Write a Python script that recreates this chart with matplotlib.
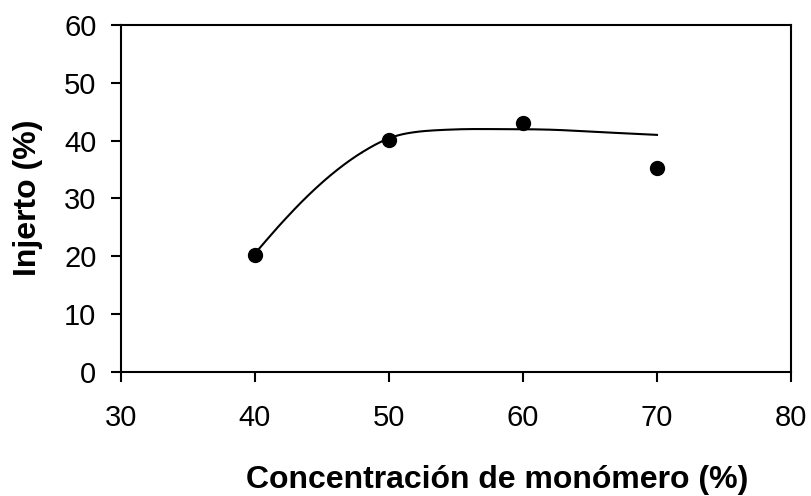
import matplotlib as mpl
import matplotlib.pyplot as plt
import numpy as np

mpl.rcParams["font.family"] = ["Liberation Sans", "DejaVu Sans"]

# measured grafting vs monomer concentration
monomer = [40, 50, 60, 70]
injerto = [20.2, 40.1, 43.1, 35.3]

# fitted trend, read at these concentrations
curve_x = [40, 42, 44, 46, 48, 50, 52, 55, 58, 62, 66, 70]
curve_y = [20.5, 25.8, 30.6, 34.7, 38.0, 40.4, 41.5, 41.95, 42.0, 41.9,
           41.45, 41.0]

x_ticks = [30, 40, 50, 60, 70, 80]
y_ticks = [0, 10, 20, 30, 40, 50, 60]


def catmull_rom(xs, ys, n=30):
    xs = np.asarray(xs, float)
    ys = np.asarray(ys, float)
    px = np.concatenate([[2 * xs[0] - xs[1]], xs, [2 * xs[-1] - xs[-2]]])
    py = np.concatenate([[2 * ys[0] - ys[1]], ys, [2 * ys[-1] - ys[-2]]])
    out_x, out_y = [], []
    t = np.linspace(0, 1, n)
    for i in range(1, len(px) - 2):
        for p, out in ((px, out_x), (py, out_y)):
            p0, p1, p2, p3 = p[i - 1], p[i], p[i + 1], p[i + 2]
            out.extend(0.5 * (2 * p1 + (-p0 + p2) * t
                              + (2 * p0 - 5 * p1 + 4 * p2 - p3) * t ** 2
                              + (-p0 + 3 * p1 - 3 * p2 + p3) * t ** 3))
    return np.array(out_x), np.array(out_y)


fig = plt.figure(figsize=(8.11, 4.96), dpi=100)
ax = fig.add_axes([0.1492, 0.25, 0.8261, 0.6996])

sx, sy = catmull_rom(curve_x, curve_y)
ax.plot(sx, sy, color="black", linewidth=1.5)
ax.plot(monomer, injerto, "o", color="black", markersize=10)

ax.set_xlim(30, 80)
ax.set_ylim(0, 60)
ax.set_xticks(x_ticks)
ax.set_yticks(y_ticks)
ax.tick_params(direction="out", length=7.2, width=1.5, labelsize=21,
               colors="black")
ax.tick_params(axis="x", pad=16)
ax.tick_params(axis="y", pad=10.5)
for s in ax.spines.values():
    s.set_linewidth(1.5)

fig.text(497 / 811, 1 - 488 / 496, "Concentración de monómero (%)",
         fontsize=23, fontweight="bold", ha="center", va="baseline")
fig.text(28.4 / 811, 1 - 197.5 / 496, "Injerto (%)", fontsize=23,
         fontweight="bold", rotation=90, ha="center", va="center")

fig.savefig("out.png", dpi=100)
